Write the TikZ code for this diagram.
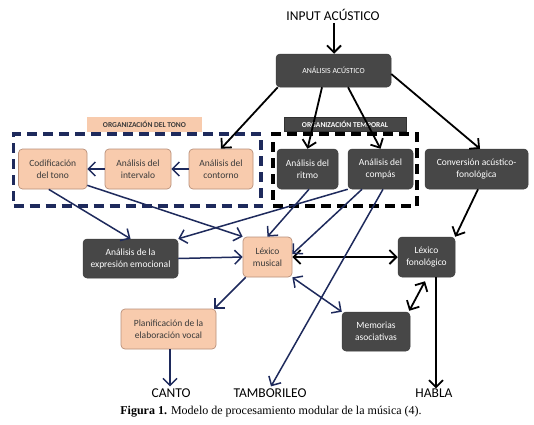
\documentclass[tikz,border=0pt]{standalone}
\usepackage{fontspec}
\setmainfont{Carlito}
\newfontfamily\capfont{Liberation Serif}
\usetikzlibrary{arrows.meta,calc}
\definecolor{darkbox}{HTML}{474747}
\definecolor{peachfill}{HTML}{F8CBAD}
\definecolor{peachdraw}{HTML}{B9907A}
\definecolor{peachtext}{HTML}{3A3A3A}
\definecolor{navy}{HTML}{1E2A5C}
\tikzset{
  boxfont/.style={font=\fontsize{9.5}{12}\selectfont},
  darkbox/.style={boxfont, fill=darkbox, draw=darkbox!85!black, line width=0.5pt, rounded corners=4pt, text=white, align=center, inner sep=0pt},
  peachbox/.style={boxfont, fill=peachfill, draw=peachdraw, line width=0.7pt, rounded corners=4pt, text=peachtext, align=center, inner sep=0pt},
  outlbl/.style={font=\fontsize{13.5}{15}\selectfont, text=black, inner sep=0pt},
  blk/.style={line width=1.8pt, black, -{Straight Barb[length=7pt,width=14pt]}},
  blkboth/.style={line width=1.8pt, black, {Straight Barb[length=7pt,width=14pt]}-{Straight Barb[length=7pt,width=14pt]}},
  nav/.style={line width=1.5pt, navy, -{Straight Barb[length=7pt,width=14pt]}},
  navboth/.style={line width=1.5pt, navy, {Straight Barb[length=7pt,width=14pt]}-{Straight Barb[length=7pt,width=14pt]}},
  frame/.style={line width=3.5pt, dash pattern=on 10pt off 6pt, inner sep=0pt},
}
\begin{document}
\begin{tikzpicture}[x=1pt,y=-1pt]
\useasboundingbox[fill=white] (0,0) rectangle (534,424);

% dashed frames
\node[frame, draw=navy, minimum width=247.5pt, minimum height=72pt] (toneframe) at (137.25,170) {};
\node[frame, draw=black, minimum width=144pt, minimum height=72pt] (tempframe) at (345,170) {};

% group labels
\node[fill=peachfill, text=peachtext, font=\bfseries\fontsize{7.5}{8}\selectfont, minimum width=115pt, minimum height=15pt, inner sep=0pt] (tonelbl) at (144.5,124.5) {ORGANIZACIÓN DEL TONO};
\node[fill=darkbox, draw=darkbox!70!black, line width=0.5pt, text=white, font=\bfseries\fontsize{7.5}{8}\selectfont, minimum width=122pt, minimum height=14pt, inner sep=0pt] (templbl) at (345,124) {ORGANIZACIÓN TEMPORAL};

% nodes
\node[outlbl] (input) at (333,15) {INPUT ACÚSTICO};
\node[darkbox, font=\fontsize{7.8}{8}\selectfont, minimum width=115pt, minimum height=33pt] (acus) at (333.5,70.5) {ANÁLISIS ACÚSTICO};
\node[peachbox, minimum width=68.5pt, minimum height=40pt] (cod) at (52.75,169) {Codificación\\del tono};
\node[peachbox, minimum width=66pt, minimum height=40pt] (int) at (138,169) {Análisis del\\intervalo};
\node[peachbox, minimum width=64pt, minimum height=40pt] (cont) at (221,169) {Análisis del\\contorno};
\node[darkbox, minimum width=61pt, minimum height=40pt] (rit) at (307.5,169) {Análisis del\\ritmo};
\node[darkbox, minimum width=65pt, minimum height=40pt] (comp) at (380.5,169) {Análisis del\\compás};
\node[darkbox, minimum width=103pt, minimum height=40pt] (conv) at (476.5,169) {Conversión acústico-\\fonológica};
\node[darkbox, minimum width=95pt, minimum height=39pt] (emo) at (130.5,258.5) {Análisis de la\\expresión emocional};
\node[peachbox, minimum width=49pt, minimum height=40pt] (lexm) at (267.5,257) {Léxico\\musical};
\node[darkbox, minimum width=57pt, minimum height=40pt] (lexf) at (426.5,257) {Léxico\\fonológico};
\node[peachbox, minimum width=95pt, minimum height=40pt] (plan) at (168.5,329) {Planificación de la\\elaboración vocal};
\node[darkbox, minimum width=68pt, minimum height=39pt] (mem) at (376,331.5) {Memorias\\asociativas};
\node[outlbl] (canto) at (171,393) {CANTO};
\node[outlbl] (tamb) at (270,393) {TAMBORILEO};
\node[outlbl] (habla) at (434,393) {HABLA};
\node[font=\capfont\fontsize{12}{14}\selectfont, inner sep=0pt] (caption) at (271,412) {\textbf{Figura 1.} Modelo de procesamiento modular de la música (4).};

% black connectors
\coordinate (inputstart) at ($(input.south)+(1,2)$);
\draw[blk] (inputstart) -- (inputstart |- acus.north);
\draw[blk] ($(acus.south west)+(2,0)$) -- (cont.north);
\draw[blk] ($(acus.south)+(-11.5,0)$) -- (rit.north);
\draw[blk] ($(acus.south)+(14.5,0)$) -- (comp.north);
\draw[blk] ($(acus.east)+(0,3.5)$) -- ($(conv.north)+(3.5,0)$);
\draw[blk] ($(conv.south)+(1.5,0)$) -- (lexf.north east);
\draw[blkboth] (lexm.east) -- (lexf.west);
\draw[blkboth] ($(mem.north east)+(-1,-1)$) -- ($(lexf.south)+(-1.5,4)$);
\coordinate (hablastart) at ($(lexf.south)+(9.5,0)$);
\draw[blk] (hablastart) -- (hablastart |- habla.north);

% navy connectors
\draw[nav] (cont.west) -- (int.east);
\draw[nav] (int.west) -- (cod.east);
\draw[nav] ($(cod.south)+(-4,0)$) -- (emo.north);
\draw[nav] ($(cod.south east)+(0,-4)$) -- (lexm.north west);
\draw[nav] ($(rit.south)+(1.5,0)$) -- (lexm.north);
\draw[nav] (comp.south west) -- (emo.north east);
\draw[nav] ($(comp.south)+(-18.5,0)$) -- ($(lexm.east)+(0,-3)$);
\draw[nav] ($(comp.south)+(2.5,0)$) -- ($(tamb.north)+(1,-2)$);
\draw[nav] (emo.east) -- (lexm.west);
\draw[nav] ($(lexm.south west)+(3,0)$) -- ($(plan.north east)+(-2,0)$);
\draw[navboth] (lexm.south east) -- (mem.north west);
\coordinate (cantostart) at ($(plan.south)+(1.5,0)$);
\draw[nav] (cantostart) -- ($(cantostart |- canto.north)+(0,-2)$);
\end{tikzpicture}
\end{document}
